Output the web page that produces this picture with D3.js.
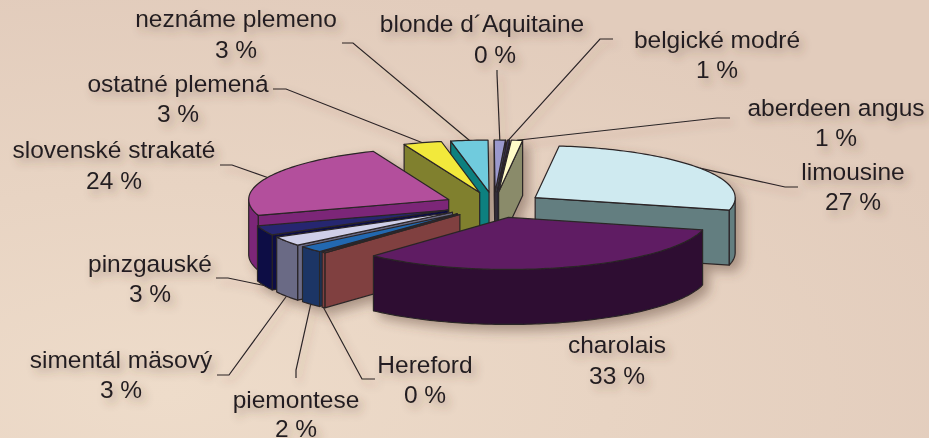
<!DOCTYPE html>
<html>
<head>
<meta charset="utf-8">
<script src="https://cdn.jsdelivr.net/npm/d3@7"></script>
<style>
  html, body { margin: 0; padding: 0; background: #e6d2c3; }
  svg { display: block; }
  text { font-family: "Liberation Sans", Arial, sans-serif; font-size: 24.5px; fill: #231f20; }
</style>
</head>
<body>
<svg id="chart"></svg>
<script>
// breeds, clockwise from the back of the pie
const breeds = ['limousine', 'charolais', 'Hereford', 'piemontese', 'simentál mäsový', 'pinzgauské',
  'slovenské strakaté', 'ostatné plemená', 'neznáme plemeno', 'blonde d´Aquitaine', 'belgické modré', 'aberdeen angus'];
// size of each slice
const shares = [27, 33, 0.3, 2, 3, 3, 23.8, 3.1, 3, 0.9, 0.2, 0.9];
// what the chart prints
const percentLabels = ['27 %', '33 %', '0 %', '2 %', '3 %', '3 %', '24 %', '3 %', '3 %', '0 %', '1 %', '1 %'];

const topColors = ['#cfeaf0', '#5f1f63', '#b86a66', '#2268b0', '#cfcfe8', '#26266f',
  '#b34f9c', '#f2e93a', '#70cbdd', '#9b99cd', '#3a3558', '#fffbc8'];
const sideColors = ['#647e80', '#2d0c33', '#80403f', '#1a3665', '#6a6a85', '#0a0d45',
  '#7c2878', '#80802f', '#07807f', '#4d4c70', '#2a2740', '#8a8b6a'];

// label centre and baselines, then where the leader starts and bends (charolais has none)
const labelLayout = [
  {x: 853, y: 180, y2: 210, from: [798, 187], knee: [785, 187]},
  {x: 617, y: 353, y2: 384},
  {x: 425, y: 373, y2: 403, from: [375, 379], knee: [362, 379]},
  {x: 296, y: 408, y2: 437, from: [296, 378], knee: [296, 370]},
  {x: 121, y: 368, y2: 398, from: [217, 375], knee: [229, 375]},
  {x: 150, y: 272, y2: 302, from: [216, 278], knee: [228, 278]},
  {x: 114, y: 158, y2: 189, from: [220, 165], knee: [232, 165]},
  {x: 178, y: 92, y2: 122, from: [273, 89], knee: [286, 89]},
  {x: 236, y: 27, y2: 58, from: [342, 43], knee: [353, 43]},
  {x: 482, y: 32, y2: 63, px: 495, from: [497, 70], knee: [497, 74]},
  {x: 717, y: 48, y2: 78, from: [613, 39], knee: [600, 39]},
  {x: 836, y: 116, y2: 146, from: [730, 118], knee: [717, 118]}
];

const config = {width: 929, height: 438, cx: 494, cy: 205, rx: 200, ry: 52, depth: 55, explode: 0.25};

const svg = d3.select('#chart').attr('width', config.width).attr('height', config.height);

const defs = svg.append('defs');
const bg = defs.append('radialGradient').attr('id', 'bg').attr('cx', '0.18').attr('cy', '0.9').attr('r', '0.95');
bg.append('stop').attr('offset', '0').attr('stop-color', '#eedcca');
bg.append('stop').attr('offset', '1').attr('stop-color', '#e2ccbc');
const shadow = defs.append('filter').attr('id', 'shadow').attr('x', '-10%').attr('y', '-20%').attr('width', '120%').attr('height', '150%');
shadow.append('feDropShadow').attr('dx', 6).attr('dy', 6).attr('stdDeviation', 6)
  .attr('flood-color', '#5a4030').attr('flood-opacity', 0.45);
const textShadow = defs.append('filter').attr('id', 'textShadow').attr('x', '-10%').attr('y', '-10%').attr('width', '120%').attr('height', '125%');
textShadow.append('feDropShadow').attr('dx', 4).attr('dy', 5).attr('stdDeviation', 4)
  .attr('flood-color', '#5a4030').attr('flood-opacity', 0.4);

svg.append('rect').attr('width', config.width).attr('height', config.height).attr('fill', 'url(#bg)');

// angles go clockwise from the top, pie is squashed into an ellipse
const pie = d3.pie().sort(null).value(d => d)
  .startAngle(6.9 * Math.PI / 180).endAngle((360 + 6.9) * Math.PI / 180);
const arcs = pie(shares);

const rim = (apex, a) => [apex[0] + config.rx * Math.sin(a), apex[1] - config.ry * Math.cos(a)];
const down = p => [p[0], p[1] + config.depth];
const path = pts => 'M' + pts.map(p => p.join(',')).join('L') + 'Z';

const arcPoints = (apex, a0, a1) => {
  const steps = Math.max(2, Math.ceil((a1 - a0) / 0.02));
  return d3.range(steps + 1).map(i => rim(apex, a0 + (a1 - a0) * i / steps));
};

const slices = arcs.map((d, i) => {
  const mid = (d.startAngle + d.endAngle) / 2;
  const apex = [
    config.cx + config.explode * config.rx * Math.sin(mid),
    config.cy - config.explode * config.ry * Math.cos(mid)
  ];
  return {i, a0: d.startAngle, a1: d.endAngle, mid, apex};
});

// leaders sit under the pie's shadow group, they end on the rim
const lineColor = '#2b2527';
const leaders = svg.append('g').attr('fill', 'none').attr('stroke', lineColor).attr('stroke-width', 1.2)
  .attr('filter', 'url(#textShadow)');
slices.forEach(s => {
  const l = labelLayout[s.i];
  if (!l.from) return;
  let end = rim(s.apex, s.mid);
  if (Math.cos(s.mid) < 0 && s.i !== 0) end = down(end);
  leaders.append('path').attr('d', d3.line()([l.from, l.knee, end]));
});

// back slices first, so the front ones cover them
const order = slices.slice().sort((a, b) => (-Math.cos(a.mid)) - (-Math.cos(b.mid)));

const pieG = svg.append('g').attr('filter', 'url(#shadow)');

order.forEach(s => {
  const g = pieG.append('g').attr('stroke', lineColor).attr('stroke-width', 1.2).attr('stroke-linejoin', 'round');
  const side = sideColors[s.i];

  // cut faces, only the ones turned towards us
  if (Math.sin(s.a0) < 0) {
    const p = rim(s.apex, s.a0);
    g.append('path').attr('d', path([s.apex, p, down(p), down(s.apex)])).attr('fill', side);
  }
  if (Math.sin(s.a1) > 0) {
    const p = rim(s.apex, s.a1);
    g.append('path').attr('d', path([s.apex, p, down(p), down(s.apex)])).attr('fill', side);
  }

  // outer wall, front half of the ellipse
  const a0 = Math.max(s.a0, Math.PI / 2), a1 = Math.min(s.a1, 3 * Math.PI / 2);
  if (a1 > a0) {
    const top = arcPoints(s.apex, a0, a1);
    g.append('path').attr('d', path(top.concat(top.slice().reverse().map(down)))).attr('fill', side);
  }

  g.append('path')
    .attr('d', path([s.apex].concat(arcPoints(s.apex, s.a0, s.a1))))
    .attr('fill', topColors[s.i]);
});

const labels = svg.append('g').attr('text-anchor', 'middle').attr('filter', 'url(#textShadow)');
breeds.forEach((name, i) => {
  const l = labelLayout[i];
  labels.append('text').attr('x', l.x).attr('y', l.y).text(name);
  labels.append('text').attr('x', l.px || l.x).attr('y', l.y2).text(percentLabels[i]);
});
</script>
</body>
</html>
